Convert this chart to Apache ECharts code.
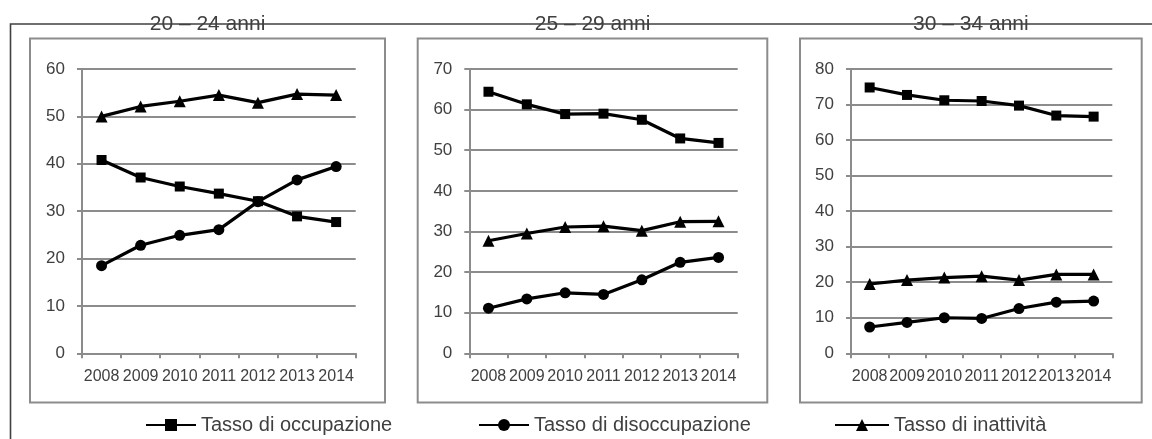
<!DOCTYPE html>
<html>
<head>
<meta charset="utf-8">
<script src="https://cdn.jsdelivr.net/npm/echarts@6/dist/echarts.min.js"></script>
<style>
  html, body { margin: 0; padding: 0; background: #fff; }
  #chart { width: 1152px; height: 439px; }
</style>
</head>
<body>
<div id="chart"></div>
<script>
// Years on the category axis
const years = ['2008', '2009', '2010', '2011', '2012', '2013', '2014'];

// Panel titles (age groups)
const panelTitles = ['20 – 24 anni', '25 – 29 anni', '30 – 34 anni'];

// Series names
const seriesNames = ['Tasso di occupazione', 'Tasso di disoccupazione', 'Tasso di inattività'];

// 20 – 24 anni
const occ2024 = [40.8, 37.1, 35.2, 33.7, 32.1, 28.9, 27.7];
const dis2024 = [18.5, 22.8, 24.9, 26.1, 32.0, 36.6, 39.4];
const ina2024 = [50.0, 52.1, 53.2, 54.5, 52.9, 54.7, 54.5];

// 25 – 29 anni
const occ2529 = [64.4, 61.3, 58.9, 59.0, 57.5, 52.9, 51.8];
const dis2529 = [11.1, 13.4, 14.9, 14.5, 18.1, 22.4, 23.6];
const ina2529 = [27.7, 29.5, 31.1, 31.3, 30.2, 32.4, 32.5];

// 30 – 34 anni
const occ3034 = [74.8, 72.7, 71.2, 71.0, 69.7, 66.9, 66.6];
const dis3034 = [7.4, 8.7, 10.0, 9.8, 12.6, 14.4, 14.7];
const ina3034 = [19.5, 20.6, 21.3, 21.7, 20.6, 22.2, 22.2];

// Y-axis maxima per panel
const yMax = [60, 70, 80];

const panelData = [
  [occ2024, dis2024, ina2024],
  [occ2529, dis2529, ina2529],
  [occ3034, dis3034, ina3034]
];

// Layout of the three panels
const panels = [
  { box: [30, 38.5, 385, 402.5], grid: [82, 355.7], legendLeft: 145, legendW: 50 },
  { box: [417.7, 38.5, 767.3, 402.5], grid: [469.3, 737.7], legendLeft: 478, legendW: 50 },
  { box: [800, 38.5, 1141.7, 402.5], grid: [851, 1112.3], legendLeft: 834, legendW: 54 }
];
const plotTop = 69, plotBottom = 353.3, W = 1152, H = 439;

const textColor = '#404040';
const gridGray = '#8c8c8c';
const font = '"Liberation Sans", Arial, sans-serif';

const symbols = ['rect', 'circle', 'triangle'];
const symbolSizes = [10, 11, 12];

const grids = [], xAxes = [], yAxes = [], series = [], legends = [], graphics = [];

// Outer frame: left and top edges only, running off the canvas
graphics.push({
  type: 'polyline', silent: true, z: 0,
  shape: { points: [[10.5, H + 5], [10.5, 24], [W + 5, 24]] },
  style: { stroke: '#404040', lineWidth: 1.6, fill: null }
});

panels.forEach((p, i) => {
  const [x0, y0, x1, y1] = p.box;
  graphics.push({
    type: 'rect', silent: true, z: 0,
    shape: { x: x0, y: y0, width: x1 - x0, height: y1 - y0 },
    style: { stroke: gridGray, lineWidth: 2, fill: null }
  });
  graphics.push({
    type: 'text', silent: true, z: 10,
    x: (x0 + x1) / 2, y: 24,
    style: {
      text: panelTitles[i], align: 'center', verticalAlign: 'middle',
      font: '21px ' + font, fill: textColor
    }
  });

  grids.push({
    left: p.grid[0], width: p.grid[1] - p.grid[0],
    top: plotTop, height: plotBottom - plotTop,
    containLabel: false
  });
  xAxes.push({
    type: 'category', gridIndex: i, data: years, boundaryGap: true,
    axisLine: { show: true, lineStyle: { color: gridGray, width: 2 } },
    axisTick: { show: true, length: 5, lineStyle: { color: gridGray, width: 2 } },
    axisLabel: {
      interval: 0, margin: 15, color: textColor,
      fontFamily: font, fontSize: 16, hideOverlap: false
    },
    splitLine: { show: false }
  });
  yAxes.push({
    type: 'value', gridIndex: i, min: 0, max: yMax[i], interval: 10,
    axisLine: { show: true, lineStyle: { color: gridGray, width: 2 } },
    axisTick: { show: true, length: 5, lineStyle: { color: gridGray, width: 2 } },
    axisLabel: { margin: 17, color: textColor, fontFamily: font, fontSize: 17 },
    splitLine: { show: true, lineStyle: { color: gridGray, width: 2 } }
  });

  panelData[i].forEach((vals, k) => {
    series.push({
      type: 'line', name: seriesNames[k],
      xAxisIndex: i, yAxisIndex: i,
      data: vals,
      symbol: symbols[k], symbolSize: symbolSizes[k], showSymbol: true,
      lineStyle: { color: '#000', width: 3.2 },
      itemStyle: { color: '#000' },
      animation: false
    });
  });

  legends.push({
    data: [seriesNames[i]],
    left: p.legendLeft, top: 415,
    itemWidth: p.legendW, itemHeight: 15,
    padding: 0, selectedMode: false,
    textStyle: { color: textColor, fontFamily: font, fontSize: 20 }
  });
});

const chart = echarts.init(document.getElementById('chart'), null, { renderer: 'canvas' });
chart.setOption({
  animation: false,
  backgroundColor: '#fff',
  grid: grids,
  xAxis: xAxes,
  yAxis: yAxes,
  legend: legends,
  series: series,
  graphic: graphics
});
</script>
</body>
</html>
